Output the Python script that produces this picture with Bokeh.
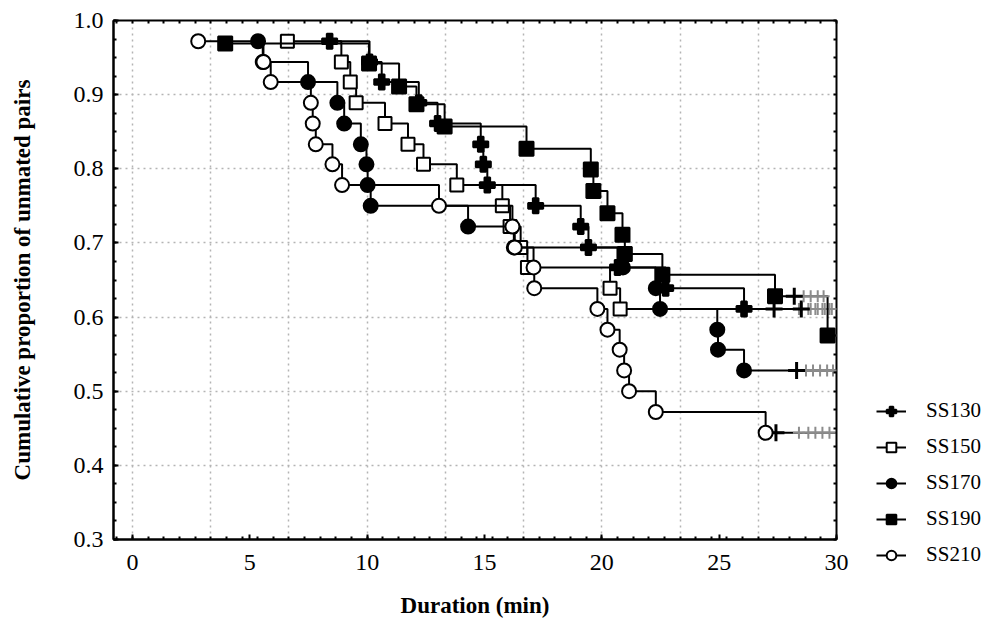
from bokeh.plotting import figure
from bokeh.models import Range1d, FixedTicker, LinearAxis, Legend, LegendItem
from bokeh.embed import file_html
from bokeh.resources import INLINE

# ---------------- data ----------------
end_time = 30.0

ss130_t = [8.40, 10.10, 10.62, 12.20, 13.00, 14.84, 14.95, 15.12, 17.18, 19.10, 19.43, 20.67, 22.72, 26.06]
ss130_s = [0.972, 0.944, 0.917, 0.889, 0.861, 0.833, 0.806, 0.778, 0.750, 0.722, 0.694, 0.667, 0.639, 0.611]
ss130_cens = [27.34, 28.4, 28.8, 29.1, 29.4, 29.7]

ss150_t = [6.60, 8.90, 9.28, 9.53, 10.76, 11.74, 12.40, 13.82, 15.76, 16.09, 16.54, 16.83, 20.35, 20.78]
ss150_s = [0.972, 0.944, 0.917, 0.889, 0.861, 0.833, 0.806, 0.778, 0.750, 0.722, 0.694, 0.667, 0.639, 0.611]
ss150_cens = [28.5, 28.9, 29.2, 29.5, 29.8]

ss170_t = [5.35, 5.55, 7.48, 8.73, 9.02, 9.73, 9.97, 10.02, 10.15, 14.30, 16.25, 20.90, 22.30, 22.48, 24.92, 24.95, 26.06]
ss170_s = [0.972, 0.944, 0.917, 0.889, 0.861, 0.833, 0.806, 0.778, 0.750, 0.722, 0.694, 0.667, 0.639, 0.611, 0.583, 0.556, 0.528]
ss170_cens = [28.3, 28.7, 29.0, 29.3, 29.6, 29.85]

ss190_t = [3.95, 10.08, 11.36, 12.10, 13.30, 16.79, 19.53, 19.64, 20.24, 20.88, 20.98, 22.58, 27.38, 29.62]
ss190_s = [0.969, 0.942, 0.911, 0.887, 0.857, 0.827, 0.799, 0.770, 0.740, 0.711, 0.685, 0.657, 0.628, 0.575]
ss190_cens_t = [28.2, 28.6, 28.9, 29.2, 29.45, 29.85]
ss190_cens_s = [0.628, 0.628, 0.628, 0.628, 0.628, 0.575]

ss210_t = [2.80, 5.58, 5.89, 7.60, 7.68, 7.81, 8.52, 8.93, 13.06, 16.19, 16.29, 17.09, 17.12, 19.81, 20.24, 20.76, 20.95, 21.16, 22.30, 26.98]
ss210_s = [0.972, 0.944, 0.917, 0.889, 0.861, 0.833, 0.806, 0.778, 0.750, 0.722, 0.694, 0.667, 0.639, 0.611, 0.583, 0.556, 0.528, 0.500, 0.472, 0.444]
ss210_cens = [27.42, 28.4, 28.8, 29.1, 29.4, 29.7]

x_ticks = [0, 5, 10, 15, 20, 25, 30]
y_ticks = [0.3, 0.4, 0.5, 0.6, 0.7, 0.8, 0.9, 1.0]
x_grid = [0, 10 / 3, 20 / 3, 10, 40 / 3, 50 / 3, 20, 70 / 3, 80 / 3]
x_minor = [k * 2 / 3 for k in range(-1, 46)]
y_minor = [0.3 + k * 0.025 for k in range(0, 29)]

FONT = "Liberation Serif"

p = figure(frame_width=723, frame_height=519,
           x_range=Range1d(-0.81, 30.0), y_range=Range1d(0.3, 1.0),
           output_backend="svg", toolbar_location=None,
           min_border_left=113, min_border_top=20, min_border_right=147, min_border_bottom=70,
           background_fill_color="white", border_fill_color="white")

p.outline_line_color = "black"
p.outline_line_width = 2

# axes
for ax in (p.xaxis[0], p.yaxis[0]):
    ax.axis_line_color = "black"
    ax.axis_line_width = 2
    ax.major_tick_in = 5
    ax.major_tick_out = 0
    ax.minor_tick_in = 3
    ax.minor_tick_out = 0
    ax.major_tick_line_width = 2
    ax.minor_tick_line_width = 2
    ax.major_label_text_font = FONT
    ax.major_label_text_font_size = "24px"
    ax.major_label_text_color = "black"
    ax.axis_label_text_font = FONT
    ax.axis_label_text_font_style = "bold"
    ax.axis_label_text_font_size = "23px"
    ax.axis_label_text_color = "black"

p.xaxis.ticker = FixedTicker(ticks=x_ticks, minor_ticks=x_minor)
p.yaxis.ticker = FixedTicker(ticks=y_ticks, minor_ticks=y_minor)
p.xaxis.major_label_overrides = {t: str(t) for t in x_ticks}
p.yaxis.major_label_overrides = {t: f"{t:.1f}" for t in y_ticks}
p.xaxis.axis_label = "Duration (min)"
p.yaxis.axis_label = "Cumulative proportion of unmated pairs"
p.xaxis.major_label_standoff = 15
p.yaxis.major_label_standoff = 10
p.xaxis.axis_label_standoff = 20
p.yaxis.axis_label_standoff = 36

# top / right tick-only axes
top = LinearAxis(ticker=FixedTicker(ticks=[], minor_ticks=x_minor),
                 major_label_text_font_size="0px", major_label_standoff=0,
                 axis_line_color=None, major_tick_out=0, minor_tick_in=3, minor_tick_out=0,
                 minor_tick_line_width=2)
right = LinearAxis(ticker=FixedTicker(ticks=[], minor_ticks=y_minor),
                   major_label_text_font_size="0px", major_label_standoff=0,
                   axis_line_color=None, major_tick_out=0, minor_tick_in=3, minor_tick_out=0,
                   minor_tick_line_width=2)
p.add_layout(top, "above")
p.add_layout(right, "right")

# grid
p.xgrid.ticker = FixedTicker(ticks=x_grid)
p.ygrid.ticker = FixedTicker(ticks=y_ticks)
for g in (p.xgrid[0], p.ygrid[0]):
    g.grid_line_color = "#b4b4b4"
    g.grid_line_dash = "2 4"
    g.grid_line_width = 1.5

series = [
    ("SS130", ss130_t, ss130_s, "plus", "black", 15, ss130_cens, [ss130_s[-1]] * len(ss130_cens)),
    ("SS150", ss150_t, ss150_s, "square", "white", 13, ss150_cens, [ss150_s[-1]] * len(ss150_cens)),
    ("SS170", ss170_t, ss170_s, "circle", "black", 14, ss170_cens, [ss170_s[-1]] * len(ss170_cens)),
    ("SS190", ss190_t, ss190_s, "square", "black", 14, ss190_cens_t, ss190_cens_s),
    ("SS210", ss210_t, ss210_s, "circle", "white", 14, ss210_cens, [ss210_s[-1]] * len(ss210_cens)),
]

items = []
for name, t, s, marker, fill, size, ct, cs in series:
    xs = list(t) + [end_time]
    ys = list(s) + [s[-1]]
    line = p.step(xs, ys, mode="after", line_color="black", line_width=2)
    p.scatter(ct[1:], cs[1:], marker="cross", size=12, line_color="#8c8c8c", line_width=2)
    p.scatter(ct[:1], cs[:1], marker="cross", size=17, line_color="black", line_width=3)
    mk = p.scatter(t, s, marker=marker, size=size, fill_color=fill, line_color="black", line_width=2)
    items.append(LegendItem(label=name, renderers=[line, mk], index=0))

legend = Legend(items=items, location=(-195, -28), orientation="vertical",
                label_text_font=FONT, label_text_font_size="21px", label_text_color="black",
                glyph_width=30, glyph_height=24, label_height=24, label_standoff=20,
                spacing=11, padding=4, margin=0, border_line_color=None,
                background_fill_alpha=0)
p.add_layout(legend, "right")

html = file_html(p, INLINE)
open("out.html", "w").write(html)
